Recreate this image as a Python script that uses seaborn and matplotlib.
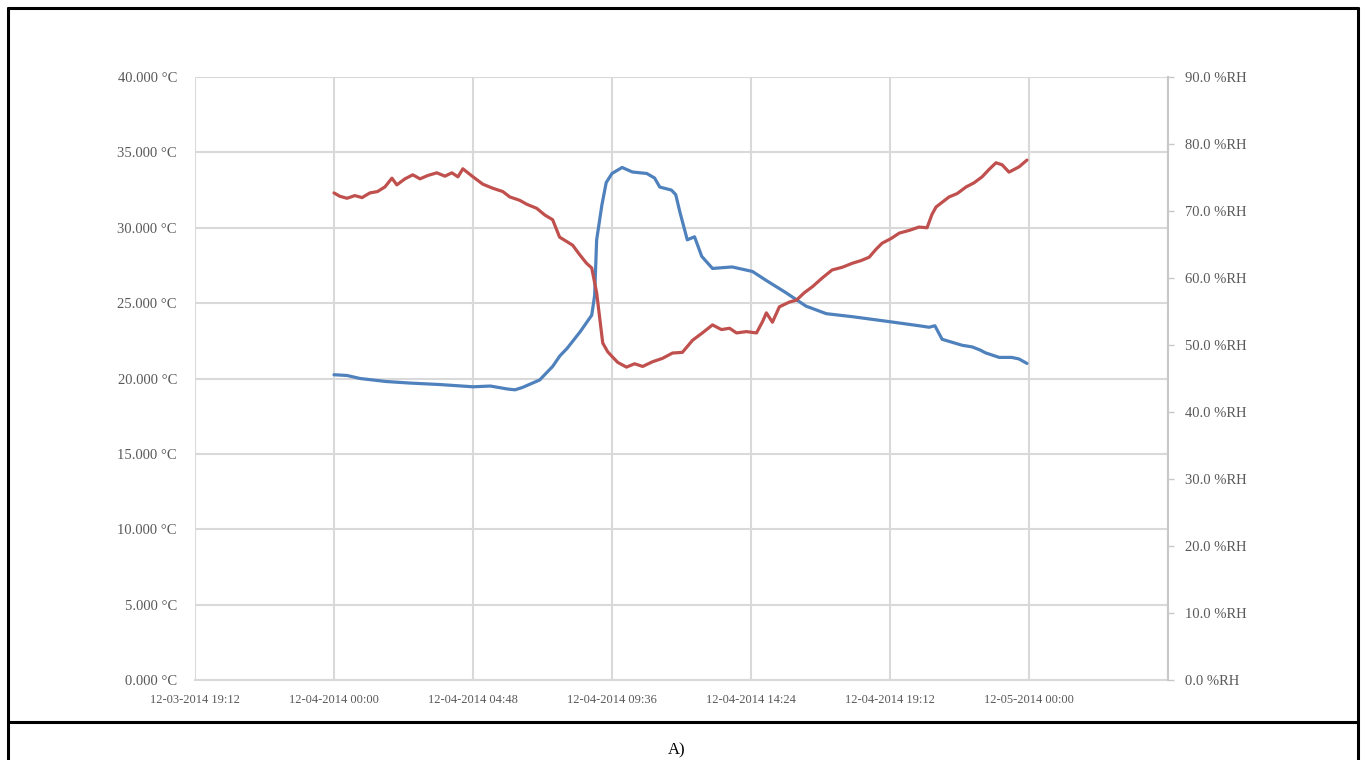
import pandas as pd
import numpy as np
import seaborn as sns
import matplotlib.pyplot as plt
from matplotlib.lines import Line2D

# temperature series (hours after 12-04-2014 00:00, deg C)
temp_hours = [0.0, 0.45, 0.9, 1.8, 2.6, 3.65, 4.8, 5.4, 6.0, 6.25, 6.5, 7.1, 7.55, 7.8,
              8.05, 8.5, 8.9, 9.0, 9.07, 9.25, 9.4, 9.6, 9.95, 10.3, 10.8, 11.07, 11.25,
              11.65, 11.8, 11.95, 12.2, 12.45, 12.7, 13.07, 13.75, 14.45, 14.93, 15.6,
              16.3, 17.0, 17.9, 19.07, 20.2, 20.55, 20.75, 21.0, 21.7, 22.03, 22.3, 22.5,
              22.97, 23.4, 23.65, 23.93]
temp_vals = [20.25, 20.2, 20.0, 19.8, 19.7, 19.6, 19.45, 19.5, 19.3, 19.25, 19.4, 19.9,
             20.8, 21.5, 22.0, 23.1, 24.2, 25.5, 29.2, 31.5, 33.0, 33.6, 34.0, 33.7, 33.6,
             33.3, 32.7, 32.5, 32.2, 31.0, 29.2, 29.4, 28.1, 27.3, 27.4, 27.1, 26.5, 25.7,
             24.8, 24.3, 24.1, 23.8, 23.5, 23.4, 23.5, 22.6, 22.2, 22.1, 21.9, 21.7, 21.4,
             21.4, 21.3, 21.0]

# relative humidity series (%RH)
rh_hours = [0.0, 0.2, 0.45, 0.72, 0.97, 1.24, 1.5, 1.76, 2.0, 2.17, 2.45, 2.72, 2.97, 3.24,
            3.55, 3.83, 4.07, 4.28, 4.45, 4.8, 5.14, 5.48, 5.83, 6.07, 6.41, 6.66, 7.0,
            7.28, 7.55, 7.79, 8.24, 8.48, 8.72, 8.9, 9.07, 9.28, 9.45, 9.62, 9.8, 10.1,
            10.38, 10.66, 11.0, 11.34, 11.69, 12.03, 12.38, 12.72, 13.07, 13.38, 13.66,
            13.9, 14.24, 14.59, 14.8, 14.93, 15.14, 15.38, 15.72, 15.97, 16.24, 16.52,
            16.86, 17.2, 17.55, 17.9, 18.2, 18.48, 18.72, 18.93, 19.24, 19.52, 19.86,
            20.2, 20.48, 20.65, 20.79, 21.24, 21.52, 21.83, 22.1, 22.38, 22.62, 22.86,
            23.07, 23.31, 23.66, 23.93]
rh_vals = [72.7, 72.2, 71.9, 72.3, 72.0, 72.7, 72.9, 73.6, 74.9, 73.9, 74.8, 75.4, 74.8,
           75.3, 75.7, 75.2, 75.7, 75.1, 76.3, 75.1, 74.0, 73.4, 72.9, 72.1, 71.6, 71.0,
           70.4, 69.4, 68.7, 66.1, 64.9, 63.5, 62.2, 61.5, 57.8, 50.3, 49.0, 48.2, 47.4,
           46.7, 47.2, 46.8, 47.5, 48.0, 48.8, 48.9, 50.7, 51.8, 53.0, 52.3, 52.5, 51.8,
           52.0, 51.8, 53.5, 54.8, 53.4, 55.7, 56.4, 56.7, 57.8, 58.7, 60.0, 61.2, 61.6,
           62.2, 62.6, 63.1, 64.3, 65.2, 65.9, 66.7, 67.1, 67.6, 67.5, 69.5, 70.6, 72.1,
           72.6, 73.6, 74.2, 75.1, 76.2, 77.2, 76.9, 75.8, 76.6, 77.6]

start = pd.Timestamp('2014-12-04 00:00')
temp = pd.DataFrame({'time': start + pd.to_timedelta(temp_hours, unit='h'), 'T': temp_vals})
rh = pd.DataFrame({'time': start + pd.to_timedelta(rh_hours, unit='h'), 'RH': rh_vals})

sns.set_theme(style='white')
plt.rcParams['font.family'] = ['Liberation Serif', 'DejaVu Serif']

grid_c = '#d9d9d9'
lab_c = '#595959'

fig = plt.figure(figsize=(13.63, 7.60), dpi=100)
ax = fig.add_axes([195/1363, 80/760, 973/1363, 603/760])
ax2 = ax.twinx()

sns.lineplot(data=temp, x='time', y='T', ax=ax, color='#4f81bd', linewidth=2.3)
sns.lineplot(data=rh, x='time', y='RH', ax=ax2, color='#c0504d', linewidth=2.3)

# ticks every 4 h 48 min
ticks = [start + pd.Timedelta(minutes=288 * k) for k in range(-1, 7)]
ax.set_xlim(ticks[0], ticks[-1])
ax.set_xticks(ticks)
ax.set_xticklabels([t.strftime('%m-%d-%Y %H:%M') for t in ticks[:-1]] + [''])

ax.set_ylim(0, 40)
ax.set_yticks(np.arange(0, 41, 5))
ax.set_yticklabels(['%.3f °C' % v for v in np.arange(0, 41, 5)])
ax2.set_ylim(0, 90)
ax2.set_yticks(np.arange(0, 91, 10))
ax2.set_yticklabels(['%.1f %%RH' % v for v in np.arange(0, 91, 10)])

ax.grid(True, color=grid_c, linewidth=1.5)
ax2.grid(False)
ax.set_xlabel('')
ax.set_ylabel('')
ax2.set_ylabel('')

for a in (ax, ax2):
    for s in a.spines.values():
        s.set_visible(False)
ax.spines['bottom'].set_visible(True)
ax.spines['bottom'].set_color(grid_c)
ax.spines['bottom'].set_linewidth(1.5)
ax2.spines['right'].set_visible(True)
ax2.spines['right'].set_color('#c8c8c8')
ax2.spines['right'].set_linewidth(1.5)

ax.tick_params(axis='x', length=0, pad=10, labelsize=9, labelcolor=lab_c)
ax.tick_params(axis='y', length=0, pad=13, labelsize=10.5, labelcolor=lab_c)
ax2.tick_params(axis='y', length=4, width=1, color='#c8c8c8', pad=8, labelsize=10.5,
                labelcolor=lab_c, right=True)

# outer frame and caption cell
W, H = 1363, 760
def fline(xs, ys):
    fig.add_artist(Line2D([x / W for x in xs], [1 - y / H for y in ys],
                          color='black', linewidth=2.2, transform=fig.transFigure))
fline([8, 1358], [8, 8])
fline([8, 8], [8, 760])
fline([1358, 1358], [8, 760])
fline([8, 1358], [722, 722])
fig.text(677 / W, 1 - 750 / H, 'A)', ha='center', va='center', fontsize=12, color='black')

fig.savefig('out.png', dpi=100)
